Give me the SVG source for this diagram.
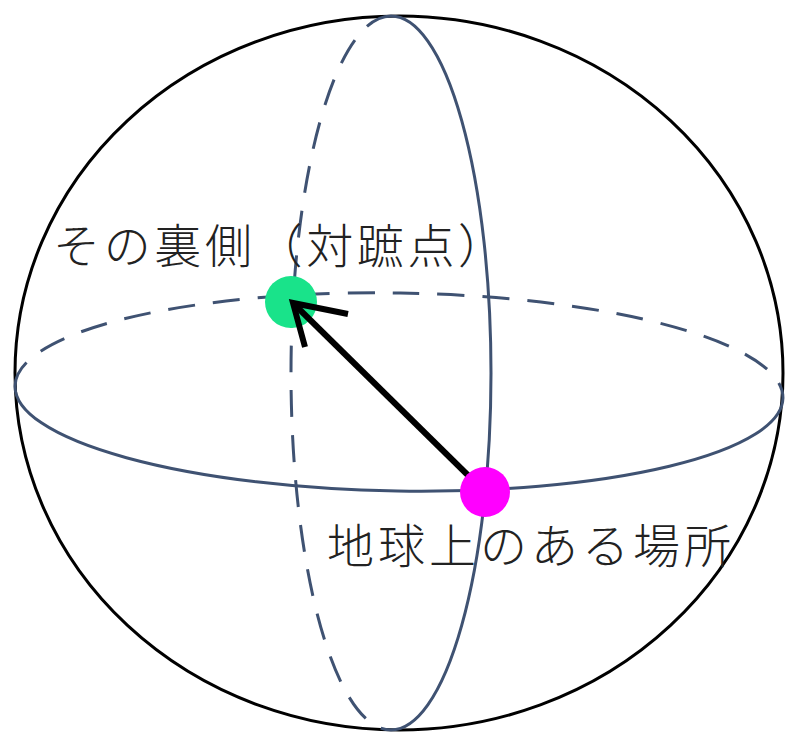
<svg xmlns="http://www.w3.org/2000/svg" width="786" height="736" viewBox="0 0 786 736">
  <style>
    .globe { fill: none; stroke: #3f5272; stroke-width: 3; }
    .back { stroke-dasharray: 27 18; }
    .lbl { font-family: "Noto Sans CJK JP", "Noto Sans", sans-serif; font-size: 47px; font-weight: 300; fill: #222; }
    .arrow { fill: none; stroke: #000; stroke-width: 6; stroke-linejoin: miter; }
  </style>
  <rect width="786" height="736" fill="#fff"/>
  <g id="sphere">
    <ellipse cx="399" cy="373" rx="384" ry="357" fill="none" stroke="#000" stroke-width="3"/>
  </g>
  <g id="equator" transform="translate(399,392) rotate(0.9)">
    <path class="globe back" d="M -384 0 A 384 99 0 0 1 384 0"/>
    <path class="globe" d="M -384 0 A 384 99 0 0 0 384 0"/>
  </g>
  <g id="meridian">
    <path class="globe back" d="M 391 16 A 100 357 0 0 0 391 730"/>
    <path class="globe" d="M 391 16 A 100 357 0 0 1 391 730"/>
  </g>
  <g id="antipode">
    <circle cx="291" cy="302" r="26" fill="#19e38a"/>
    <text class="lbl" x="53" y="263" textLength="452" lengthAdjust="spacing">その裏側（対蹠点）</text>
  </g>
  <g id="connectors">
    <line class="arrow" x1="485" y1="492" x2="296" y2="306"/>
    <polyline class="arrow" points="348,314 293,303 305,347"/>
  </g>
  <g id="place">
    <circle cx="485" cy="492" r="25" fill="#ff00ff"/>
    <text class="lbl" x="327" y="563" textLength="404" lengthAdjust="spacing">地球上のある場所</text>
  </g>
</svg>
